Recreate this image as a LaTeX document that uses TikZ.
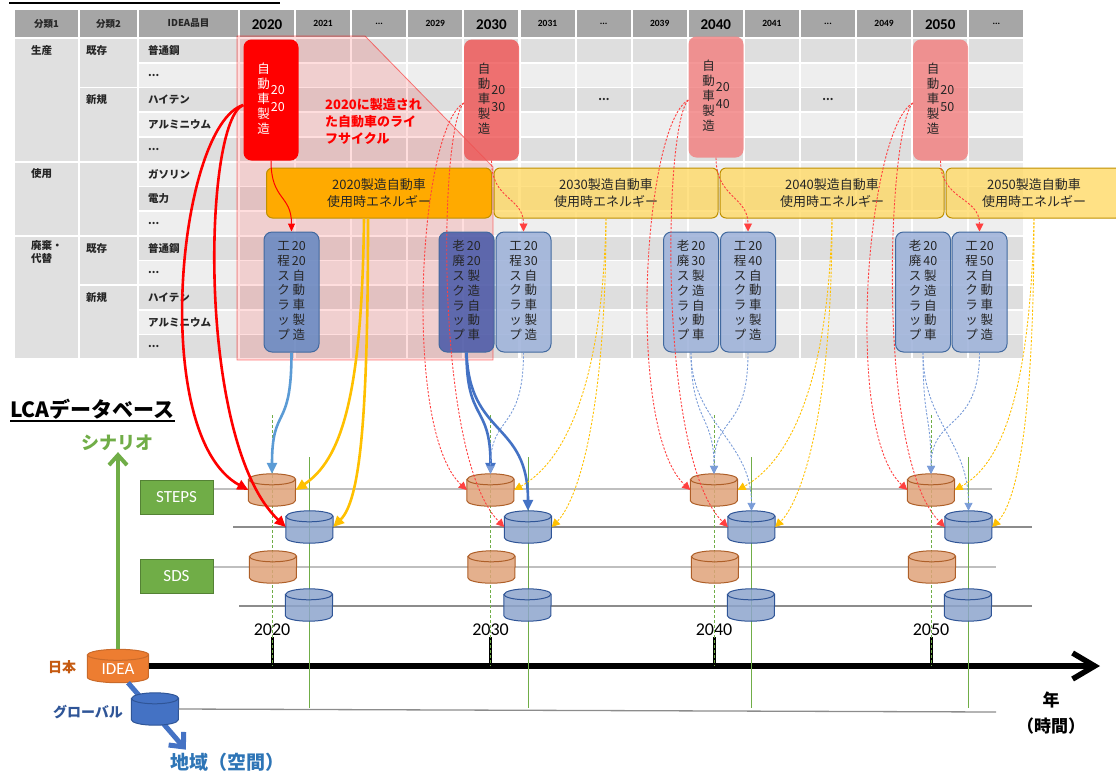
\documentclass[tikz,border=0pt]{standalone}
\usepackage{fontspec}
\setmainfont{Noto Sans CJK JP}
\newfontfamily\lat{Carlito}
\usetikzlibrary{arrows.meta}
\definecolor{hdrgray}{HTML}{A6A6A6}
\definecolor{rowdk}{HTML}{DEDEDE}
\definecolor{rowlt}{HTML}{EEEEEE}
\definecolor{catgray}{HTML}{E0E0E0}
\definecolor{mkpink}{HTML}{EE5555}
\definecolor{useorange}{HTML}{FFAA00}
\definecolor{useyellow}{HTML}{FFD966}
\definecolor{useborder}{HTML}{BF9000}
\definecolor{scrapmid}{HTML}{6C8BC3}
\definecolor{scrapdark}{HTML}{4F5EAA}
\definecolor{scraplt}{HTML}{A1B4DA}
\definecolor{scrapline}{HTML}{41699F}
\definecolor{cylbrown}{HTML}{DFA279}
\definecolor{cylbrownd}{HTML}{AE5F28}
\definecolor{cylblue}{HTML}{8DA4CC}
\definecolor{cylblued}{HTML}{2F5597}
\definecolor{scengreen}{HTML}{70AD47}
\definecolor{scendark}{HTML}{548235}
\definecolor{arrblue}{HTML}{4472C4}
\definecolor{arrlblue}{HTML}{5B9BD5}
\definecolor{arrdblue}{HTML}{7A9CD8}
\definecolor{arryellow}{HTML}{FFC000}
\definecolor{dashred}{HTML}{FF4040}
\definecolor{ideaorange}{HTML}{ED7D31}
\definecolor{jpnorange}{HTML}{C55A11}
\definecolor{globblue}{HTML}{4472C4}
\definecolor{globtext}{HTML}{2F5597}
\definecolor{areablue}{HTML}{2E75B6}
\definecolor{guidegray}{HTML}{BFBFBF}
\definecolor{guidedark}{HTML}{8C8C8C}
\definecolor{boxtext}{HTML}{262626}

\newcommand{\vcol}[1]{\begin{tabular}[c]{@{}c@{}}#1\end{tabular}}
\newcommand{\vtwo}[1]{\begin{tabular}[c]{@{}c@{\hspace{2pt}}c@{}}#1\end{tabular}}
\newcommand{\dd}{...}
% database drum on a named box: name, fill, line colour, half width, opacity
\newcommand{\dbdrum}[5]{%
  \filldraw[fill=#2, draw=#3, line width=1pt, fill opacity=#5]
    ([yshift=-5.5pt]#1.north west) -- ([yshift=5.5pt]#1.south west)
    arc[start angle=180, end angle=360, x radius=#4pt, y radius=5.5pt]
    -- ([yshift=-5.5pt]#1.north east)
    arc[start angle=0, end angle=180, x radius=#4pt, y radius=5.5pt] -- cycle;
  \draw[#3, line width=1pt] ([yshift=-5.5pt]#1.north west)
    arc[start angle=180, end angle=360, x radius=#4pt, y radius=5.5pt];
}

\tikzset{
  hdrtxt/.style={inner sep=0pt, font=\bfseries\fontsize{9.5}{11}\selectfont, text=black!85},
  yrbig/.style={inner sep=0pt, font=\lat\bfseries\fontsize{15}{17}\selectfont},
  yrsmall/.style={inner sep=0pt, font=\lat\bfseries\fontsize{9.5}{11}\selectfont},
  celltxt/.style={anchor=west, inner sep=0pt, font=\bfseries\fontsize{10.5}{13}\selectfont, text=black!85, align=left},
  lifezone/.style={fill=red, fill opacity=.13, draw=red, draw opacity=.5, line width=.8pt},
  lifetxt/.style={anchor=north west, inner sep=0pt, align=left, text=red, font=\bfseries\fontsize{13}{17}\selectfont},
  mkbox/.style={rounded corners=8pt, minimum width=55pt, minimum height=121pt, inner sep=0pt, fill=mkpink, fill opacity=.82, text opacity=1, text=boxtext, font=\fontsize{12.5}{15}\selectfont},
  usebox/.style={rounded corners=6pt, minimum width=225pt, minimum height=50pt, inner sep=0pt, draw=useborder, line width=1pt, fill=useyellow, fill opacity=.8, text opacity=1, text=boxtext, align=center, font=\fontsize{13}{17}\selectfont},
  scrapbox/.style={rounded corners=8pt, minimum width=55pt, minimum height=120pt, inner sep=0pt, draw=scrapline, line width=1pt, fill=scraplt, fill opacity=.9, text opacity=1, text=boxtext, font=\fontsize{12.5}{14.7}\selectfont},
  drumbox/.style={rectangle, minimum width=47pt, minimum height=32pt, inner sep=0pt},
  lcatitle/.style={anchor=west, inner sep=0pt, font=\bfseries\fontsize{21}{24}\selectfont},
  scentxt/.style={inner sep=1pt, text=scengreen, font=\bfseries\fontsize{18}{20}\selectfont},
  scenbox/.style={draw=scendark, fill=scengreen, text=white, line width=1pt, minimum width=73pt, minimum height=34pt, font=\lat\fontsize{17}{19}\selectfont},
  yearlab/.style={inner sep=0pt, font=\lat\fontsize{18}{20}\selectfont},
  idealab/.style={inner sep=0pt, text=white, font=\lat\fontsize{17}{19}\selectfont},
  jptxt/.style={inner sep=0pt, font=\bfseries\fontsize{14}{16}\selectfont},
  axtxt/.style={inner sep=0pt, font=\bfseries\fontsize{17}{19}\selectfont},
  areatxt/.style={inner sep=0pt, text=areablue, font=\bfseries\fontsize{19}{21}\selectfont},
  guide/.style={guidegray, line width=1.3pt},
  guidedk/.style={guidedark, line width=1.3pt},
  tickline/.style={black, line width=3pt},
  greendash/.style={scengreen, line width=1pt, dash pattern=on 3pt off 2pt},
  greenline/.style={scengreen, line width=1pt},
  axisline/.style={black, line width=5.5pt, -{Straight Barb[length=22pt,width=26pt]}},
  scenarrow/.style={scengreen, line width=4pt, -{Straight Barb[length=10pt,width=18pt]}},
  areaarrow/.style={arrblue, line width=5pt, -{Straight Barb[length=11pt,width=20pt]}},
  thickarr/.style={line width=2.6pt, -{Triangle[length=11pt,width=10pt]}},
  thinarr/.style={line width=1pt, -{Triangle[length=8pt,width=7pt]}},
  dasharr/.style={line width=.9pt, dash pattern=on 2.2pt off 1.6pt, -{Triangle[length=8pt,width=8pt]}}
}

\begin{document}
\begin{tikzpicture}[x=1pt,y=-1pt]
\useasboundingbox (0,0) rectangle (1116,772);
% cut-off title line
\draw[line width=1.5pt] (9,3) -- (280,3);

% table head
\foreach \xa/\w in {15/63,80/57,139/99}
  \fill[hdrgray] (\xa,10) rectangle ++(\w,27);
\foreach \c in {0,...,13}
  \fill[hdrgray] ({240+56.1*\c},10) rectangle ++(54,27);
\node[hdrtxt] (h1) at (46.5,23.5) {分類1};
\node[hdrtxt] (h2) at (108.5,23.5) {分類2};
\node[hdrtxt] (h3) at (188.5,23.5) {IDEA品目};
\foreach \c/\lab in {0/2020,4/2030,8/2040,12/2050}
  \node[yrbig] (hy\c) at ({267+56.1*\c},25) {\lab};
\foreach \c/\lab in {1/2021,2/\dd,3/2029,5/2031,6/\dd,7/2039,9/2041,10/\dd,11/2049,13/\dd}
  \node[yrsmall] (hy\c) at ({267+56.1*\c},23.5) {\lab};

% table body
\foreach \r in {0,...,12}{
  \pgfmathsetmacro\rowy{39+24.7*\r}
  \ifodd\r\def\rowcol{rowlt}\else\def\rowcol{rowdk}\fi
  \fill[fill=\rowcol] (139,\rowy) rectangle ++(99,23);
  \foreach \c in {0,...,13}
    \fill[fill=\rowcol] ({240+56.1*\c},\rowy) rectangle ++(54,23);
}
\foreach \xa/\xb/\ra/\rb in {15/78/0/4,15/78/5/7,15/78/8/12,80/137/0/1,80/137/2/4,80/137/5/7,80/137/8/9,80/137/10/12}
  \fill[catgray] (\xa,{39+24.7*\ra}) rectangle (\xb,{39+24.7*\rb+23});
\node[celltxt] (c1a) at (31,50.5) {生産};
\node[celltxt] (c1b) at (31,174) {使用};
\node[celltxt,anchor=north west] (c1c) at (31,240) {廃棄・\\代替};
\node[celltxt] (c2a) at (86,50.5) {既存};
\node[celltxt] (c2b) at (86,99.9) {新規};
\node[celltxt] (c2c) at (86,248.1) {既存};
\node[celltxt] (c2d) at (86,297.5) {新規};
\foreach \r/\lab in {0/普通鋼,1/\dd,2/ハイテン,3/アルミニウム,4/\dd,5/ガソリン,6/電力,7/\dd,8/普通鋼,9/\dd,10/ハイテン,11/アルミニウム,12/\dd}
  \node[celltxt] (it\r) at (148,{50.5+24.7*\r}) {\lab};
\node[celltxt,anchor=center] (dotA) at (604,99.9) {\dd};
\node[celltxt,anchor=center] (dotB) at (828,99.9) {\dd};

% life cycle of the 2020 cars
\filldraw[lifezone] (237,36) -- (365,36) -- (493,167) -- (493,360) -- (237,360) -- cycle;

\node[mkbox,fill=red,fill opacity=1,text=white] (mk20) at (271,100) {\vcol{自\\動\\車\\製\\造}\hspace{1pt}\vcol{20\\[2pt]20}};
\node[mkbox] (mk30) at (491.5,100) {\vcol{自\\動\\車\\製\\造}\hspace{1pt}\vcol{20\\[2pt]30}};
\node[mkbox,fill=mkpink!75!white] (mk40) at (716,97) {\vcol{自\\動\\車\\製\\造}\hspace{1pt}\vcol{20\\[2pt]40}};
\node[mkbox,fill=mkpink!75!white] (mk50) at (940.5,100) {\vcol{自\\動\\車\\製\\造}\hspace{1pt}\vcol{20\\[2pt]50}};

\node[usebox,fill=useorange,fill opacity=1] (use20) at (379,193) {2020製造自動車\\使用時エネルギー};
\node[usebox,minimum width=224pt] (use30) at (606,193) {2030製造自動車\\使用時エネルギー};
\node[usebox,minimum width=224pt] (use40) at (832,193) {2040製造自動車\\使用時エネルギー};
\node[usebox,minimum width=176pt] (use50) at (1034,193) {2050製造自動車\\使用時エネルギー};

\node[scrapbox,fill=scrapmid] (ks20) at (291.5,292) {\vtwo{工&20\\程&20\\ス&自\\ク&動\\ラ&車\\ッ&製\\プ&造}};
\node[scrapbox,fill=scrapdark] (rs20) at (466.5,292) {\vtwo{老&20\\廃&20\\ス&製\\ク&造\\ラ&自\\ッ&動\\プ&車}};
\node[scrapbox] (ks30) at (523.5,292) {\vtwo{工&20\\程&30\\ス&自\\ク&動\\ラ&車\\ッ&製\\プ&造}};
\node[scrapbox] (rs30) at (691,292) {\vtwo{老&20\\廃&30\\ス&製\\ク&造\\ラ&自\\ッ&動\\プ&車}};
\node[scrapbox] (ks40) at (748,292) {\vtwo{工&20\\程&40\\ス&自\\ク&動\\ラ&車\\ッ&製\\プ&造}};
\node[scrapbox] (rs40) at (923,292) {\vtwo{老&20\\廃&40\\ス&製\\ク&造\\ラ&自\\ッ&動\\プ&車}};
\node[scrapbox] (ks50) at (979.5,292) {\vtwo{工&20\\程&50\\ス&自\\ク&動\\ラ&車\\ッ&製\\プ&造}};

\node[lifetxt] (lifecap) at (325,98) {2020に製造され\\た自動車のライ\\フサイクル};

% LCA database
\node[lcatitle] (lca) at (10,409) {LCAデータベース};
\draw[line width=1.8pt] ([yshift=-2pt]lca.south west) -- ([yshift=-2pt]lca.south east);
\node[scentxt] (scen) at (117,443) {シナリオ};
\node[scenbox] (steps) at (176.5,497) {STEPS};
\node[scenbox] (sds) at (176.5,576) {SDS};
\node[drumbox,minimum width=61pt,minimum height=33pt] (idea) at (118,666) {};
\dbdrum{idea}{ideaorange}{ideaorange!85!black}{30.5}{1}
\node[idealab] (idealab) at (118,669) {IDEA};
\node[jptxt,text=jpnorange] (jpn) at (62,667) {日本};

\draw[guide] ([yshift=8pt]steps.east) -- (992,489);
\draw[guidedk] (233,527) -- (1032,527);
\draw[guide] ([yshift=9pt]sds.east) -- (996,567);
\draw[guidedk] (239,606) -- (1032,606);

\coordinate (axisend) at (1100,666);
\draw[axisline] (idea.east) -- (axisend);
\node[axtxt] (yearax) at (1051,700) {年};
\node[axtxt] (timeax) at (1051,726) {（時間）};

\foreach \yr/\x in {20/272,30/490.5,40/714,50/931}{
  \node[yearlab] (yl\yr) at (\x,630) {20\yr};
  \draw[tickline] (\x,637) -- (\x,666);
  \draw[greendash] (\x,415) -- (\x,666);
  \draw[greenline] ({\x+37.5},457) -- ({\x+37.5},708);
}
\foreach \yr/\x in {20/272,30/490.5,40/714,50/931}{
  \node[drumbox] (jst\yr) at (\x,490) {};
  \dbdrum{jst\yr}{cylbrown}{cylbrownd}{23.5}{.85}
  \node[drumbox] (gst\yr) at ({\x+37.5},527) {};
  \dbdrum{gst\yr}{cylblue}{cylblued}{23.5}{.85}
  \node[drumbox] (jsd\yr) at ({\x+1},567) {};
  \dbdrum{jsd\yr}{cylbrown}{cylbrownd}{23.5}{.85}
  \node[drumbox] (gsd\yr) at ({\x+37},605) {};
  \dbdrum{gsd\yr}{cylblue}{cylblued}{23.5}{.85}
}

\draw[scenarrow] (idea.north) -- (idea.north |- scen.south);
\node[areatxt] (area) at (227,762) {地域（空間）};
\draw[areaarrow] ([xshift=10pt]idea.south) -- ([xshift=16pt,yshift=3pt]area.north west);
\node[drumbox] (glob) at (155,709) {};
\dbdrum{glob}{globblue}{globtext}{23.5}{1}
\node[jptxt,text=globtext] (globlab) at (88,712) {グローバル};
\draw[guidedk] (glob.east) -- (996,712);

% flows of the 2020 cars
\draw[thickarr,red] ([yshift=-5pt]mk20.west) .. controls +(-65,20) and +(-100,-55) .. (jst20.west);
\draw[thickarr,red] ([yshift=-5pt]mk20.west) .. controls +(-40,15) and +(-90,-85) .. (gst20.west);
\draw[thinarr,red] (mk20.south) .. controls +(0,40) and +(0,-37) .. (ks20.north);
\draw[thickarr,arryellow] ([xshift=-15pt]use20.south) .. controls +(-2,180) and +(45,-30) .. (jst20.east);
\draw[thickarr,arryellow] ([xshift=-11pt]use20.south) .. controls +(0,200) and +(27,-27) .. (gst20.east);
\draw[thickarr,arrlblue] (ks20.south) .. controls +(0,80) and +(0,-70) .. (jst20.north);
\draw[thickarr,arrblue] (rs20.south) .. controls +(0,70) and +(0,-70) .. (jst30.north);
\draw[thickarr,arrblue] (rs20.south) .. controls +(3,85) and +(0,-90) .. (gst30.north);

% later years
\foreach \yr in {30,40,50}{
  \draw[dasharr,dashred] ([yshift=-3pt]mk\yr.west) .. controls +(-45,25) and +(-65,-60) .. (jst\yr.west);
  \draw[dasharr,dashred] ([yshift=-3pt]mk\yr.west) .. controls +(-25,25) and +(-70,-70) .. (gst\yr.west);
  \draw[dasharr,dashred] (mk\yr.south) .. controls +(0,40) and +(0,-35) .. (ks\yr.north);
  \draw[dasharr,arryellow] (use\yr.south) .. controls +(-4,180) and +(45,-25) .. (jst\yr.east);
  \draw[dasharr,arryellow] (use\yr.south) .. controls +(0,200) and +(25,-25) .. (gst\yr.east);
  \draw[dasharr,arrdblue] (ks\yr.south) .. controls +(0,80) and +(0,-60) .. (jst\yr.north);
}
\foreach \yr/\pre in {40/30,50/40}{
  \draw[dasharr,arrdblue] (rs\pre.south) .. controls +(0,70) and +(0,-60) .. (jst\yr.north);
  \draw[dasharr,arrdblue] (rs\pre.south) .. controls +(0,70) and +(0,-70) .. (gst\yr.north);
}
\end{tikzpicture}
\end{document}
